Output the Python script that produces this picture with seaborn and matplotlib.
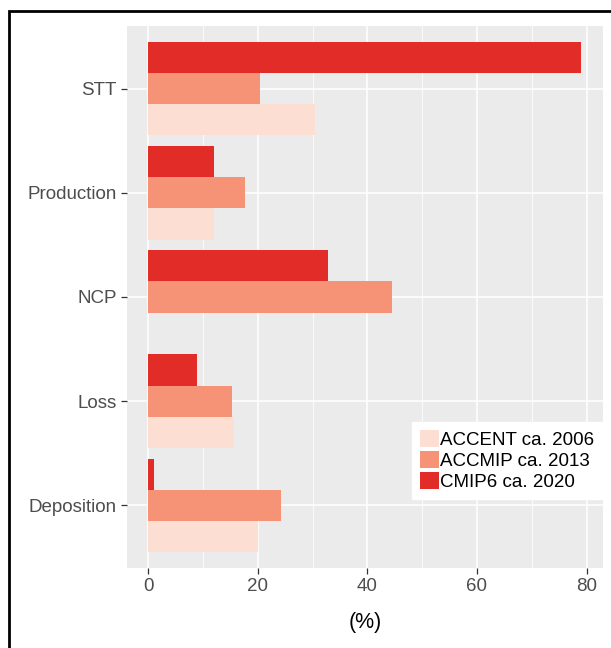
import pandas as pd
import matplotlib
matplotlib.use("Agg")
import matplotlib.pyplot as plt
import matplotlib.patches as mpatches
from matplotlib.ticker import MultipleLocator
import seaborn as sns

# --- datos ---
procesos = ["STT", "Production", "NCP", "Loss", "Deposition"]
accent_2006 = [30.5, 12.0, None, 15.7, 20.1]
accmip_2013 = [20.3, 17.7, 44.5, 15.3, 24.3]
cmip6_2020 = [79.0, 11.9, 32.8, 8.8, 1.1]

series = ["ACCENT ca. 2006", "ACCMIP ca. 2013", "CMIP6 ca. 2020"]
colores = ["#FCDED3", "#F69377", "#E12C28"]

df = pd.DataFrame({
    "proceso": procesos * 3,
    "valor": accent_2006 + accmip_2013 + cmip6_2020,
    "modelo": [s for s in series for _ in procesos],
})
df["valor"] = df["valor"].astype(float)

# --- estilo tipo ggplot ---
sns.set_theme(style="darkgrid")
plt.rcParams["font.family"] = ["Liberation Sans", "DejaVu Sans"]

fig = plt.figure(figsize=(6.11, 6.48), dpi=100)
ax = fig.add_axes([127 / 611, 1 - 568 / 648, (602.7 - 127) / 611, (568 - 26) / 648])

paleta = dict(zip(series, colores))
orden_hue = series[::-1]  # CMIP6 arriba en cada grupo
sns.barplot(data=df, y="proceso", x="valor", hue="modelo", order=procesos,
            hue_order=orden_hue, palette=paleta, orient="h", width=0.9,
            errorbar=None, saturation=1, linewidth=0, ax=ax, legend=False)

ax.set_facecolor("#EBEBEB")
ax.set_xlim(-3.9, 82.95)
ax.set_ylim(4.6, -0.6)
ax.xaxis.set_major_locator(MultipleLocator(20))
ax.xaxis.set_minor_locator(MultipleLocator(10))
ax.grid(which="major", color="white", linewidth=1.1)
ax.grid(which="minor", axis="x", color="white", linewidth=0.55)
ax.set_axisbelow(True)
for s in ax.spines.values():
    s.set_visible(False)

ax.tick_params(axis="both", which="major", length=4.5, width=0.9, color="#333333",
               labelsize=13.5, labelcolor="#4D4D4D", pad=3, left=True, bottom=True)
ax.tick_params(axis="x", which="minor", length=0)
ax.set_ylabel("")
ax.set_xlabel("(%)", fontsize=15.5, color="black", labelpad=12)

# leyenda en el orden original
manijas = [mpatches.Patch(facecolor=c, edgecolor="none", label=s)
           for s, c in zip(series, colores)]
leg = ax.legend(handles=manijas, loc="upper left", bbox_to_anchor=(0.599, 0.269),
                fontsize=13.5, frameon=True, fancybox=False, framealpha=1,
                edgecolor="white", facecolor="white", borderpad=0.42,
                handlelength=1.0, handleheight=1.0, handletextpad=0.1,
                labelspacing=0.12, borderaxespad=0, labelcolor="black")

# marco negro alrededor de la figura
fig.add_artist(mpatches.Rectangle((8.5 / 611, -0.2), 1.2, 1.2 - 10.5 / 648,
                                  transform=fig.transFigure, fill=False,
                                  edgecolor="black", linewidth=2))

fig.savefig("out.png", dpi=100, facecolor="white")
